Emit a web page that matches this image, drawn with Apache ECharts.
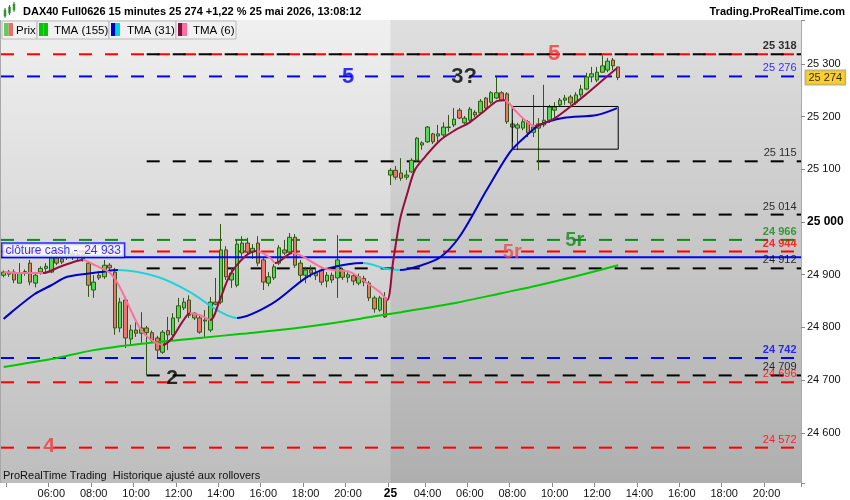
<!DOCTYPE html>
<html><head><meta charset="utf-8">
<script src="https://cdn.jsdelivr.net/npm/echarts@6/dist/echarts.min.js"></script>
<style>html,body{margin:0;padding:0;background:#fff}#c{width:850px;height:500px}</style>
</head><body><div id="c"></div>
<script>
// ---------- DATA ----------
const day1Start = '03:45', day1End = '21:45';
const day2Start = '02:15', day2End = '21:30';
const day2Label = '25';
const xTickHours = ['04:00','06:00','08:00','10:00','12:00','14:00','16:00','18:00','20:00'];
const yTickValues = [24600,24700,24800,24900,25000,25100,25200,25300];

// [open, close, low, high]
const day1Candles = [
[24899,24905,24895,24908],[24905,24901,24896,24909],[24905,24890,24884,24910],[24884,24903,24884,24922],
[24903,24906,24898,24910],[24922,24886,24880,24928],[24884,24899,24876,24903],[24905,24912,24900,24916],
[24912,24916,24905,24922],[24905,24932,24903,24937],[24932,24922,24918,24937],[24930,24924,24920,24935],
[24934,24943,24928,24952],[24940,24935,24928,24945],[24935,24938,24928,24944],[24938,24930,24925,24942],
[24922,24880,24858,24926],[24871,24886,24856,24899],[24899,24894,24890,24903],[24896,24918,24892,24928],
[24918,24913,24908,24922],[24905,24799,24786,24913],[24799,24848,24791,24856],[24852,24780,24761,24858],
[24778,24795,24767,24805],[24795,24789,24782,24810],[24789,24799,24771,24829],[24799,24790,24709,24803],
[24790,24776,24772,24794],[24780,24757,24744,24784],[24753,24791,24750,24795],[24794,24786,24757,24820],
[24786,24818,24776,24827],[24818,24841,24810,24856],[24837,24848,24833,24856],[24852,24823,24818,24861],
[24827,24818,24814,24829],[24818,24791,24788,24822],[24812,24814,24782,24833],[24795,24848,24791,24858],
[24848,24844,24842,24894],[24848,24947,24844,24996],[24947,24896,24890,24954],[24890,24903,24875,24913],
[24880,24958,24876,24966],[24941,24960,24935,24973],[24960,24943,24938,24970],[24943,24950,24930,24958],
[24960,24922,24916,24973],[24928,24886,24871,24932],[24884,24896,24878,24905],[24894,24915,24890,24920],
[24922,24951,24918,24956],[24947,24941,24937,24966],[24943,24971,24938,24979],[24971,24918,24913,24977],
[24922,24899,24886,24928],[24899,24909,24884,24915],[24909,24903,24895,24918],[24903,24898,24890,24912],
[24909,24886,24880,24912],[24888,24899,24876,24905],[24899,24890,24884,24904],[24894,24928,24856,24975],
[24909,24895,24890,24913],[24895,24900,24885,24907],[24898,24888,24880,24902],[24884,24896,24880,24902],
[24893,24886,24878,24898],[24884,24856,24850,24888],[24856,24835,24828,24860],[24833,24856,24830,24860],
[24856,24820,24818,24867]
];
const day2Candles = [
[25089,25098,25070,25102],[25098,25085,25080,25106],[25093,25083,25078,25121],[25085,25089,25080,25098],
[25095,25117,25093,25121],[25117,25159,25114,25161],[25146,25150,25137,25153],[25152,25180,25150,25182],
[25167,25152,25148,25169],[25163,25167,25152,25184],[25165,25180,25159,25189],[25179,25180,25171,25203],
[25184,25195,25180,25216],[25212,25197,25195,25216],[25188,25197,25186,25201],[25193,25214,25190,25218],
[25208,25203,25199,25212],[25207,25229,25205,25233],[25235,25216,25212,25237],[25227,25245,25224,25248],
[25235,25245,25233,25275],[25245,25231,25229,25248],[25243,25190,25186,25246],[25186,25180,25152,25193],
[25178,25184,25137,25188],[25178,25190,25174,25197],[25190,25169,25161,25193],[25170,25180,25161,25241],
[25178,25186,25098,25197],[25184,25193,25180,25260],[25193,25218,25188,25222],[25212,25218,25193,25227],
[25222,25231,25220,25235],[25231,25235,25222,25241],[25237,25226,25222,25241],[25226,25241,25222,25246],
[25241,25252,25237,25260],[25252,25275,25250,25283],[25275,25281,25265,25294],[25269,25284,25265,25294],
[25284,25296,25284,25316],[25288,25305,25284,25311],[25307,25296,25288,25311],[25294,25274,25269,25294]
];

// moving averages: [bar position, value]
const tma155 = [[0,24725],[9,24740],[17,24757],[26,24769],[37,24780],[45,24788],[52,24795],[62,24808],
[70,24821],[75,24829],[85,24846],[94,24865],[101,24880],[108,24897],[116,24918]];
const tma31 = [[0,24816],[1.5,24829],[5.8,24863],[9,24880],[12,24896],[18.2,24905],[21.6,24909],[29,24896],[35.2,24867],
[40.3,24833],[44,24818],[50.8,24846],[57.3,24896],[61.6,24913],[67.8,24922],[72.4,24911],[74.8,24909],
[78.6,24917],[82.4,24933],[86.1,24973],[91.2,25061],[95.6,25133],[98.8,25165],[101.2,25184],
[105.6,25197],[112,25203],[115.8,25216]];
const tma31Turns = [21.6,44,67.8,74.8];            // rising first
const tma6 = [[0,24905],[3.1,24903],[7.4,24903],[10.6,24915],[13.8,24926],[15,24928],[17.2,24918],
[20.1,24903],[22,24875],[23.8,24837],[25.7,24799],[27.6,24778],[30.1,24767],[31.8,24780],[33.7,24810],
[35.2,24827],[37.1,24823],[39,24814],[40.8,24852],[42.7,24899],[45.6,24935],[47.8,24945],[50.3,24932],
[51.3,24922],[54.5,24941],[60.2,24913],[62.1,24909],[65.4,24905],[68.6,24884],[71,24867],[72.4,24852],
[73.5,24924],[74.8,25004],[76.1,25051],[77.6,25098],[79.5,25123],[82.4,25155],[85.2,25174],[88,25189],
[90.9,25212],[93.1,25229],[94.6,25231],[96.5,25212],[98.4,25193],[100.3,25182],[102.2,25188],
[104.1,25197],[106.9,25218],[109.8,25241],[112.6,25265],[114.5,25281],[115.8,25292]];
const tma6Turns = [7.4,15,30.1,35.2,39,47.8,51.3,54.5,72.4,94.6,100.3]; // falling first

const levelPrices = [25318,25318,25276,25115,25014,24966,24944,24912,24742,24709,24696,24572];
const clotureCash = 24933;
const lastPrice = 25274;
const rangeBoxBars = [96,116];
const rangeBoxPrices = [25138,25219];
const annotationTexts = ['5','3?','5','5r','5r','2','4'];
const annotationBars = [65.0,86.9,103.9,107.8,96.0,31.8,8.6];
const annotationPrices = [25275,25275,25318,24964,24943,24704,24575];

// ---------- STYLES ----------
const FONT = '"Liberation Sans", Arial, Helvetica, sans-serif';
const XMIN = -0.5, XMAX = 150.5;
const levelStyles = [
  {color:'#ff0000', from:XMIN, label:false},
  {color:'#000000', from:27, label:true, bold:true},
  {color:'#0000ff', from:XMIN, label:true},
  {color:'#000000', from:27, label:true},
  {color:'#000000', from:27, label:true},
  {color:'#138a13', from:XMIN, label:true, bold:true},
  {color:'#ff0000', from:XMIN, label:true, bold:true},
  {color:'#000000', from:27, label:true},
  {color:'#0000ff', from:XMIN, label:true, bold:true},
  {color:'#000000', from:27, label:true},
  {color:'#ff0000', from:XMIN, label:true},
  {color:'#ff0000', from:XMIN, label:true}
];
const annotationStyles = [
  {color:'#0000ee', size:22},{color:'#000', size:22},{color:'#f03838', size:22},
  {color:'#138a13', size:20},{color:'#f04848', size:20},{color:'#000', size:21},{color:'#f03838', size:21}
];

const fmt = v => String(Math.round(v)).replace(/\B(?=(\d{3})+(?!\d))/g, ' ');
function buildSlots(prefix, start, end) {
  let [h, m] = start.split(':').map(Number);
  const [eh, em] = end.split(':').map(Number);
  const out = [];
  const pad = n => (n < 10 ? '0' : '') + n;
  while (h * 60 + m <= eh * 60 + em) {
    out.push(prefix + ' ' + pad(h) + ':' + pad(m));
    m += 15; if (m >= 60) { m -= 60; h++; }
  }
  return out;
}
const categories = buildSlots('J1', day1Start, day1End).concat(buildSlots('J2', day2Start, day2End));
const day2Index = categories.indexOf('J2 ' + day2Start);
const candles = day1Candles.concat(day2Candles);

function pieces(turns, colors) {
  const p = [];
  for (let i = 0; i <= turns.length; i++) {
    const piece = {color: colors[i % 2]};
    if (i > 0) piece.gte = turns[i - 1];
    if (i < turns.length) piece.lt = turns[i];
    p.push(piece);
  }
  return p;
}

const series = [];
series.push({type:'line', xAxisIndex:1, data:[[day2Index, 24505]], symbol:'none', lineStyle:{width:0}, silent:true, z:0,
  markArea:{silent:true, itemStyle:{color:'rgba(0,0,0,0.07)'}, data:[[{xAxis:day2Index},{xAxis:XMAX}]]}});
levelPrices.forEach((p, i) => {
  const st = levelStyles[i];
  series.push({type:'line', xAxisIndex:1, data:[[st.from, p],[XMAX, p]], symbol:'none', silent:true, z:1,
    lineStyle:{color:st.color, width:2, type:[13,13]}});
});
series.push({type:'candlestick', xAxisIndex:0, yAxisIndex:0, data:candles, barWidth:4, z:2,
  itemStyle:{color:'#55d655', color0:'#ea766e', borderColor:'#2e5a12', borderColor0:'#2e5a12', borderWidth:1}});
series.push({type:'line', xAxisIndex:1, data:[[XMIN, clotureCash],[XMAX, clotureCash]], symbol:'none', silent:true, z:3,
  lineStyle:{color:'#0000ff', width:2}});
series.push({type:'line', xAxisIndex:1, symbol:'none', silent:true, z:3,
  data:[[rangeBoxBars[0],rangeBoxPrices[1]],[rangeBoxBars[1],rangeBoxPrices[1]],[rangeBoxBars[1],rangeBoxPrices[0]],
        [rangeBoxBars[0],rangeBoxPrices[0]],[rangeBoxBars[0],rangeBoxPrices[1]]],
  lineStyle:{color:'#000', width:1}});
const idx155 = series.length;
series.push({type:'line', xAxisIndex:1, data:tma155, symbol:'none', smooth:0.3, z:4, lineStyle:{color:'#00c800', width:2}});
const idx31 = series.length;
series.push({type:'line', xAxisIndex:1, data:tma31, symbol:'none', smooth:0.3, z:4, lineStyle:{width:2}});
const idx6 = series.length;
series.push({type:'line', xAxisIndex:1, data:tma6, symbol:'none', smooth:0.3, z:5, lineStyle:{width:2}});
series.push({type:'scatter', xAxisIndex:1, symbolSize:1, itemStyle:{color:'rgba(0,0,0,0)'}, silent:true, z:6,
  data: levelPrices.map((p, i) => levelStyles[i].label ? {value:[XMAX, p], label:{show:true, position:'left', distance:4, offset:[0,-8],
    formatter: fmt(p), color:levelStyles[i].color, fontSize:11, fontFamily:FONT, fontWeight: levelStyles[i].bold ? 'bold' : 'normal'}} : null).filter(Boolean)});
series.push({type:'scatter', xAxisIndex:1, symbolSize:1, itemStyle:{color:'rgba(0,0,0,0)'}, silent:true, z:7,
  data: annotationTexts.map((t, i) => ({value:[annotationBars[i], annotationPrices[i]], label:{show:true, position:'inside',
    formatter:t, color:annotationStyles[i].color, fontSize:annotationStyles[i].size, fontWeight:'bold', fontFamily:FONT}}))});
series.push({type:'scatter', xAxisIndex:1, symbolSize:1, itemStyle:{color:'rgba(0,0,0,0)'}, silent:true, z:8,
  data:[{value:[XMIN, clotureCash], label:{show:true, position:'right', distance:0, offset:[1,-7],
    formatter:'clôture cash -  ' + fmt(clotureCash), color:'#0000ff', fontSize:12, fontFamily:FONT,
    backgroundColor:'#ffffff', borderColor:'#0000ff', borderWidth:1.5, padding:[1,3,0,3]}}]});
series.push({type:'scatter', xAxisIndex:1, symbolSize:1, itemStyle:{color:'rgba(0,0,0,0)'}, silent:true, z:8,
  data:[{value:[XMAX, lastPrice], label:{show:true, position:'right', distance:4,
    formatter: fmt(lastPrice), color:'#000', fontSize:11, fontFamily:FONT,
    backgroundColor:'#f6c300', borderColor:'#9a9a9a', borderWidth:1, padding:[2,3,1,3]}}]});

const isTick = (i, v) => i === day2Index || xTickHours.indexOf(v.split(' ')[1]) >= 0;
const isLabel = (i, v) => isTick(i, v) && !(i < day2Index && v.split(' ')[1] === '04:00');

const bgGrad = new echarts.graphic.LinearGradient(0, 0, 0, 1, [
  {offset:0, color:'#f0f0f0'}, {offset:1, color:'#bdbdbd'}]);

const legendBoxes = [
  {x:2, w:35, text:'Prix', c1:'#5fce5f', c2:'#e2716a', tx:16},
  {x:37, w:72, text:'TMA (155)', c1:'#00c800', c2:'#00c800', tx:54},
  {x:109, w:67, text:'TMA (31)', c1:'#0000c8', c2:'#00d2e0', tx:127},
  {x:176, w:60, text:'TMA (6)', c1:'#8b0a3c', c2:'#ff6f9f', tx:193}
];
const graphics = [
  {type:'rect', shape:{x:0, y:0, width:850, height:20}, style:{fill:'#fff'}, z:100},
  {type:'rect', shape:{x:4, y:10, width:2, height:6}, style:{fill:'#4cc04c', stroke:'#2e7a2e', lineWidth:0.5}, z:101},
  {type:'rect', shape:{x:8.5, y:7, width:2, height:6}, style:{fill:'#4cc04c', stroke:'#2e7a2e', lineWidth:0.5}, z:101},
  {type:'rect', shape:{x:13, y:4, width:2, height:6}, style:{fill:'#4cc04c', stroke:'#2e7a2e', lineWidth:0.5}, z:101},
  {type:'line', shape:{x1:5, y1:8, x2:5, y2:18}, style:{stroke:'#2e7a2e', lineWidth:1}, z:101},
  {type:'line', shape:{x1:9.5, y1:5, x2:9.5, y2:15}, style:{stroke:'#2e7a2e', lineWidth:1}, z:101},
  {type:'line', shape:{x1:14, y1:2, x2:14, y2:12}, style:{stroke:'#2e7a2e', lineWidth:1}, z:101},
  {type:'text', x:23, y:12, style:{text:'DAX40 Full0626 15 minutes 25 274 +1,22 % 25 mai 2026, 13:08:12',
    font:'bold 11px ' + FONT, fill:'#000', verticalAlign:'middle'}, z:101},
  {type:'text', x:845, y:12, style:{text:'Trading.ProRealTime.com', font:'bold 11px ' + FONT, fill:'#000',
    align:'right', verticalAlign:'middle'}, z:101},
  {type:'text', x:3, y:476, style:{text:'ProRealTime Trading  Historique ajusté aux rollovers', font:'11px ' + FONT,
    fill:'#111', verticalAlign:'middle'}, z:101},
  {type:'line', shape:{x1:0.5, y1:20, x2:0.5, y2:483}, style:{stroke:'#a8a8a8', lineWidth:1}, z:101}
];
legendBoxes.forEach(b => {
  graphics.push({type:'rect', shape:{x:b.x, y:21, width:b.w, height:18}, style:{fill:'#f1f1f1', stroke:'#b9b9b9', lineWidth:1}, z:100});
  graphics.push({type:'rect', shape:{x:b.x + 2, y:23, width:4.5, height:13}, style:{fill:b.c1}, z:101});
  graphics.push({type:'rect', shape:{x:b.x + 6.5, y:23, width:4.5, height:13}, style:{fill:b.c2}, z:101});
  graphics.push({type:'text', x:b.tx, y:30.5, style:{text:b.text, font:'11.5px ' + FONT, fill:'#000', verticalAlign:'middle'}, z:101});
});

const chart = echarts.init(document.getElementById('c'));
chart.setOption({
  animation:false,
  backgroundColor:'#ffffff',
  grid:{left:1, width:800, top:20, height:463, show:true, backgroundColor:bgGrad, borderWidth:0},
  xAxis:[
    {type:'category', data:categories, boundaryGap:true, position:'bottom',
     axisLine:{show:false, onZero:false},
     axisTick:{show:true, interval:isTick, length:4, lineStyle:{color:'#888'}},
     axisLabel:{interval:isLabel, margin:5, color:'#111', fontSize:11, fontFamily:FONT,
       formatter:(v, i) => i === day2Index ? '{b|' + day2Label + '}' : v.split(' ')[1],
       rich:{b:{fontWeight:'bold', fontSize:12, fontFamily:FONT, color:'#000'}}},
     splitLine:{show:false}},
    {type:'value', min:XMIN, max:XMAX, show:false, axisLine:{onZero:false}}
  ],
  yAxis:[{type:'value', position:'right', min:24505, max:25383, splitNumber:9,
    axisLine:{show:true, onZero:false, lineStyle:{color:'#aaaaaa'}},
    axisTick:{show:true, length:4, lineStyle:{color:'#888'}},
    axisLabel:{customValues:yTickValues, margin:6, color:'#111', fontSize:11, fontFamily:FONT,
      formatter:v => v === 25000 ? '{b|' + fmt(v) + '}' : fmt(v),
      rich:{b:{fontWeight:'bold', fontSize:12, fontFamily:FONT, color:'#000'}}},
    splitLine:{show:false}}],
  visualMap:[
    {type:'piecewise', show:false, seriesIndex:idx31, dimension:0, pieces:pieces(tma31Turns, ['#0000cc','#1fd3dd'])},
    {type:'piecewise', show:false, seriesIndex:idx6, dimension:0, pieces:pieces(tma6Turns, ['#ff6f9c','#960c3c'])}
  ],
  graphic:graphics,
  series:series
});
</script>
</body></html>
